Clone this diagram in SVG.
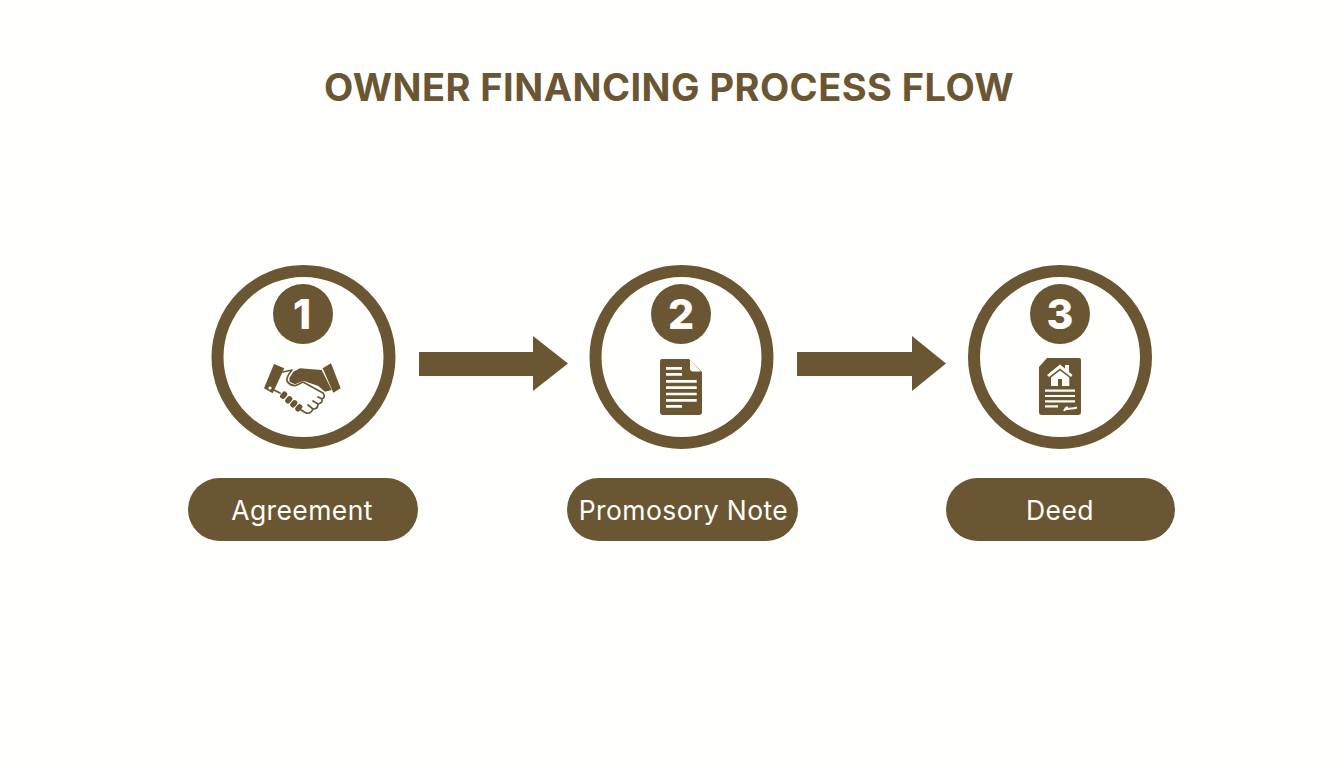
<svg xmlns="http://www.w3.org/2000/svg" width="1344" height="768" viewBox="0 0 1344 768">
<style>
.d{fill:#6b5633}
.l{fill:#fffefa}
.ring{fill:#fffffd;stroke:#6b5633;stroke-width:12}
.num{font:800 41px "Inter","Liberation Sans",sans-serif;fill:#fffefa;text-anchor:middle}
.lab{font:400 26.500px "Inter","Liberation Sans",sans-serif;fill:#fffefa;text-anchor:middle;letter-spacing:.4px}
.title{font:700 38px "Inter","Liberation Sans",sans-serif;fill:#6b5633;text-anchor:middle;letter-spacing:.45px}
.ln{stroke:#fffefa;stroke-width:2.7;fill:none}
.o{stroke:#6b5633;stroke-width:1.7;fill:none;stroke-linecap:round;stroke-linejoin:round}
</style>
<rect width="1344" height="768" fill="#fffffd"/>
<text id="title" class="title" x="669" y="101">OWNER FINANCING PROCESS FLOW</text>
<g id="connectors">
<path class="d" d="M419 352H533V336L568 363.500L533 391V376H419Z"/>
<path class="d" d="M797 352H912V336L946 363.500L912 391V376H797Z"/>
</g>
<g id="node1">
<circle class="ring" cx="303.500" cy="357" r="86"/>
<circle class="d" cx="303" cy="314" r="30"/>
<text class="num" x="302" y="329">1</text>
<path class="d" d="M274 364L284.300 368.300L272.700 393.300L264 388.300Z"/>
<path class="d" d="M331 363.300L340.700 388.300L333.300 392.700L322.700 368.300Z"/>
<circle class="l" cx="270" cy="388" r="1.600"/>
<path class="o" d="M283 372L292 370Q286 377 287 381Q290 386 296 385.500L303 382L323 393Q326 397 322 399L318 397M322 399Q323 403 318 404L313 401M318 404Q318 409 313 409L308 405M313 409Q311 414 306 413L301 410"/>
<path class="o" d="M274 390L280 393"/>
<path class="d" d="M293.300 371.700L300 368.300L321.700 370L331.700 390L325 391.700L318.300 386L303.300 380.700L295 384.300L289.500 381.700L289.300 378.300Z"/>
<g class="d">
<rect x="279.500" y="392.500" width="8" height="5.500" rx="2.700" transform="rotate(-50 283.500 395)"/>
<rect x="285" y="397" width="8" height="5.500" rx="2.700" transform="rotate(-50 289 400)"/>
<rect x="290" y="401" width="8" height="5.500" rx="2.700" transform="rotate(-50 294 404)"/>
<rect x="295" y="405" width="8" height="5.500" rx="2.700" transform="rotate(-50 299 408)"/>
</g>
</g>
<g id="node2">
<circle class="ring" cx="681.500" cy="357" r="86"/>
<circle class="d" cx="681" cy="314" r="30"/>
<text class="num" x="681" y="329">2</text>
<path class="d" d="M662 359H689L702 372V412Q702 415 699 415H663Q660 415 660 412V361Q660 359 662 359Z"/>
<path class="l" d="M690 360L701 371.500H693Q690 371.500 690 368Z"/>
<path class="ln" d="M666 368.300H682M666 374.300H682M666 381.300H696.700M666 387.700H696.700M666 394H696.700M666 400.300H696.700M666 406.300H682"/>
</g>
<g id="node3">
<circle class="ring" cx="1060" cy="357" r="86"/>
<circle class="d" cx="1060" cy="314" r="30"/>
<text class="num" x="1060" y="329">3</text>
<path class="d" d="M1047 358H1079Q1081 358 1081 360V412Q1081 415 1078 415H1042Q1039 415 1039 412V367Z"/>
<path class="l" d="M1047 375L1060 364.500L1065 368.500V365H1069V372L1072.500 375L1071 377L1060 368.500L1049 377Z"/>
<path class="l" d="M1051 377.500L1060 370.500L1069.300 377.500V386H1062V379H1058V386H1051Z"/>
<path class="ln" style="stroke-width:2.200px" d="M1045 390.700H1075M1045 396H1075M1045 401.300H1075M1045 406.300H1058"/>
<path class="ln" style="stroke-width:2px" d="M1064 411C1066 406 1068 407 1067 409C1071 408 1072 409 1077 407.500"/>
</g>
<g id="pill1">
<rect class="d" x="188" y="478" width="230" height="63" rx="31.500"/>
<text class="lab" x="302" y="520">Agreement</text>
</g>
<g id="pill2">
<rect class="d" x="567" y="478" width="231" height="63" rx="31.500"/>
<text class="lab" x="683.500" y="520">Promosory Note</text>
</g>
<g id="pill3">
<rect class="d" x="946" y="478" width="229" height="63" rx="31.500"/>
<text class="lab" x="1060" y="520">Deed</text>
</g>
</svg>
